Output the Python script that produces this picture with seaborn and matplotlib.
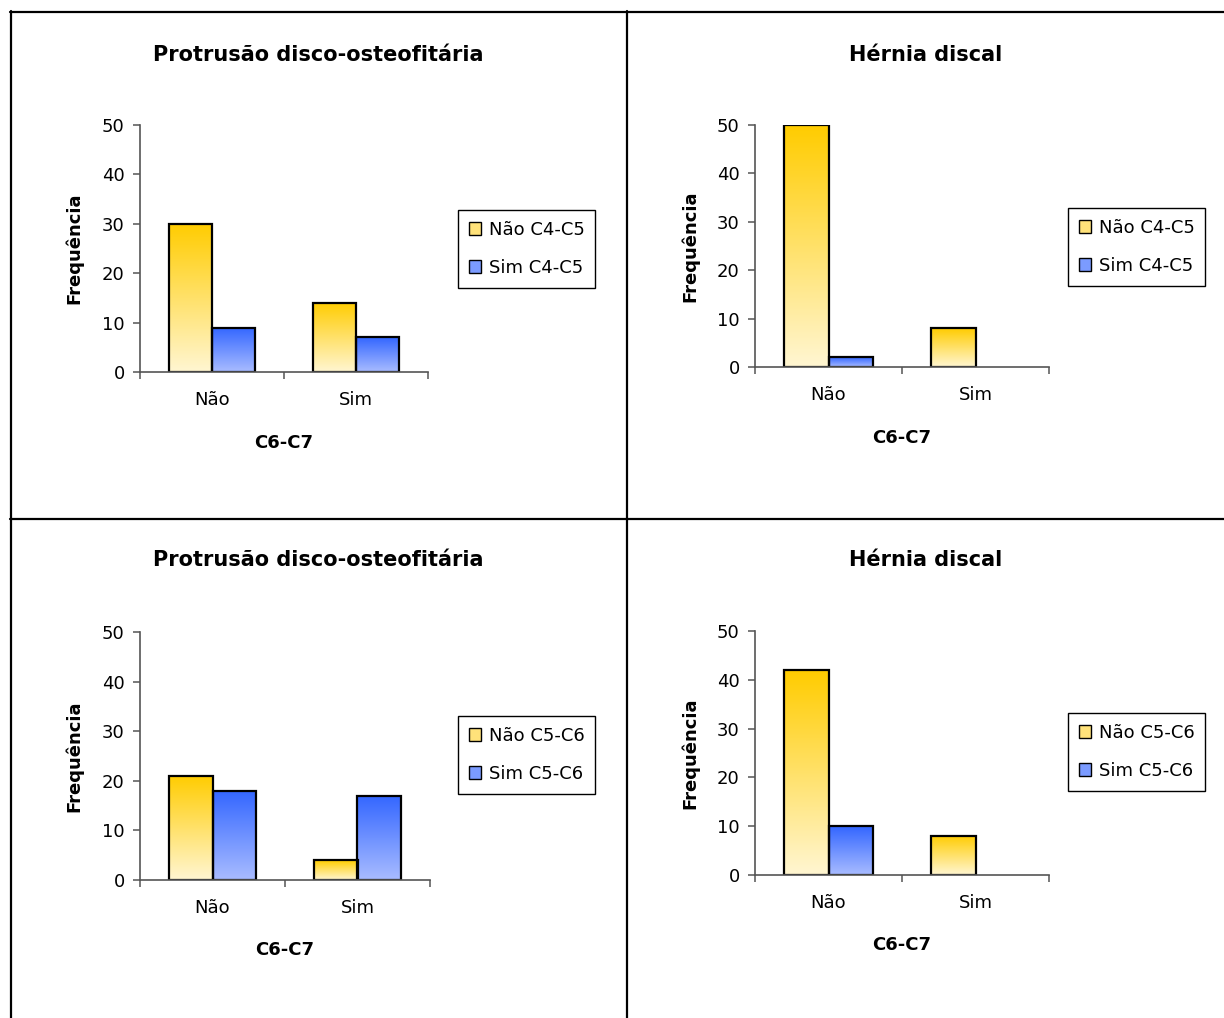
import numpy as np
import pandas as pd
import matplotlib
matplotlib.use("Agg")
import matplotlib.pyplot as plt
from matplotlib.patches import Patch
from matplotlib.lines import Line2D
from matplotlib.colors import LinearSegmentedColormap
import seaborn as sns

# ---- data ----
categories = ["Não", "Sim"]
panel_titles = ["Protrusão disco-osteofitária", "Hérnia discal",
                "Protrusão disco-osteofitária", "Hérnia discal"]
legend_c45 = ["Não C4-C5", "Sim C4-C5"]
legend_c56 = ["Não C5-C6", "Sim C5-C6"]

protrusao_c45_nao = [30, 14]
protrusao_c45_sim = [9, 7]
hernia_c45_nao = [50, 8]
hernia_c45_sim = [2, 0]
protrusao_c56_nao = [21, 4]
protrusao_c56_sim = [18, 17]
hernia_c56_nao = [42, 8]
hernia_c56_sim = [10, 0]

y_ticks = [0, 10, 20, 30, 40, 50]
x_title = "C6-C7"
y_title = "Frequência"

# ---- style ----
sns.set_style("ticks")
plt.rcParams["font.family"] = ["DejaVu Sans"]
plt.rcParams["text.color"] = "black"
plt.rcParams["axes.labelcolor"] = "black"
plt.rcParams["xtick.labelcolor"] = "black"
plt.rcParams["ytick.labelcolor"] = "black"

W, H = 1224, 1018
fig = plt.figure(figsize=(W / 100, H / 100), dpi=100)
fig.patch.set_facecolor("white")

YELLOW = ("#FFCC00", "#FFF6D2")   # top, bottom of the gradient
BLUE = ("#3366FF", "#A9BCFF")
LEG_COLORS = ["#FFE27A", "#7B9BFF"]


def fx(px):
    return px / W


def fy(py):
    return 1 - py / H


def gradient_bar(ax, rect, top, bottom):
    x, y = rect.get_x(), rect.get_y()
    w, h = rect.get_width(), rect.get_height()
    if h <= 0:
        rect.set_visible(False)
        return
    cmap = LinearSegmentedColormap.from_list("grad", [bottom, top])
    grad = np.linspace(0, 1, 256).reshape(-1, 1)
    im = ax.imshow(grad, extent=(x, x + w, y, y + h), origin="lower",
                   aspect="auto", cmap=cmap, zorder=0.9, interpolation="bilinear")
    im.set_clip_path(rect)
    rect.set_facecolor("none")
    rect.set_edgecolor("black")
    rect.set_linewidth(1.6)
    rect.set_zorder(1)


panels = [
    dict(nao=protrusao_c45_nao, sim=protrusao_c45_sim, labels=legend_c45,
         box=(140, 125, 428, 372), title_xy=(318, 55), ylab_x=74,
         xlab_y=443, leg=(458, 249)),
    dict(nao=hernia_c45_nao, sim=hernia_c45_sim, labels=legend_c45,
         box=(755, 125, 1049, 367), title_xy=(926, 55), ylab_x=690,
         xlab_y=438, leg=(1068, 247)),
    dict(nao=protrusao_c56_nao, sim=protrusao_c56_sim, labels=legend_c56,
         box=(140, 632, 430, 880), title_xy=(318, 560), ylab_x=74,
         xlab_y=950, leg=(458, 755)),
    dict(nao=hernia_c56_nao, sim=hernia_c56_sim, labels=legend_c56,
         box=(755, 631, 1049, 875), title_xy=(926, 560), ylab_x=690,
         xlab_y=945, leg=(1068, 752)),
]

for title, p in zip(panel_titles, panels):
    l, t, r, b = p["box"]
    ax = fig.add_axes([fx(l), fy(b), fx(r) - fx(l), (b - t) / H])
    ax.set_facecolor("white")

    df = pd.DataFrame({
        "c67": categories * 2,
        "grupo": [p["labels"][0]] * 2 + [p["labels"][1]] * 2,
        "freq": list(p["nao"]) + list(p["sim"]),
    })
    sns.barplot(data=df, x="c67", y="freq", hue="grupo", order=categories,
                hue_order=p["labels"], width=0.6, errorbar=None,
                palette=[YELLOW[0], BLUE[0]], legend=False, ax=ax)

    for cont, (top, bottom) in zip(ax.containers, [YELLOW, BLUE]):
        for rect in cont:
            gradient_bar(ax, rect, top, bottom)

    ax.set_xlim(-0.5, 1.5)
    ax.set_ylim(0, 50)
    ax.set_yticks(y_ticks)
    ax.set_yticklabels([str(v) for v in y_ticks], fontsize=13)
    ax.set_xticks([-0.5, 0.5, 1.5])
    ax.set_xticklabels(["", "", ""])
    ax.set_xticks([0, 1], minor=True)
    ax.set_xticklabels(categories, minor=True, fontsize=13)
    ax.tick_params(axis="x", which="major", length=5, width=1.1,
                   color="#555555", direction="out")
    ax.tick_params(axis="x", which="minor", length=0, pad=14,
                   labelcolor="black")
    ax.tick_params(axis="y", length=5, width=1.1, color="#555555",
                   direction="out", pad=6, labelcolor="black")

    for side in ("top", "right"):
        ax.spines[side].set_visible(False)
    for side in ("left", "bottom"):
        ax.spines[side].set_color("#555555")
        ax.spines[side].set_linewidth(1.2)

    ax.set_xlabel(x_title, fontsize=13, fontweight="bold", color="black")
    ax.xaxis.set_label_coords(fx((l + r) / 2), fy(p["xlab_y"]),
                              transform=fig.transFigure)
    ax.xaxis.label.set_va("center")

    ax.set_ylabel(y_title, fontsize=13, fontweight="bold", color="black")
    ax.yaxis.set_label_coords(fx(p["ylab_x"]), fy((t + b) / 2),
                              transform=fig.transFigure)
    ax.yaxis.label.set_va("center")
    ax.yaxis.label.set_ha("center")

    fig.text(fx(p["title_xy"][0]), fy(p["title_xy"][1]), title,
             fontsize=15, fontweight="bold", ha="center", va="center",
             color="black")

    handles = [Patch(facecolor=c, edgecolor="black", linewidth=1.0)
               for c in LEG_COLORS]
    leg = ax.legend(handles, p["labels"], loc="center left",
                    bbox_to_anchor=(fx(p["leg"][0]), fy(p["leg"][1])),
                    bbox_transform=fig.transFigure, fontsize=13,
                    frameon=True, fancybox=False, framealpha=1,
                    edgecolor="black", handlelength=0.7, handleheight=0.7,
                    handletextpad=0.4, labelspacing=1.1, borderpad=0.6,
                    borderaxespad=0)
    leg.get_frame().set_linewidth(1.0)
    for txt in leg.get_texts():
        txt.set_color("black")

# table-like frame around the four panels
frame_kw = dict(color="black", linewidth=1.6, transform=fig.transFigure)
fig.add_artist(Line2D([fx(10), 1], [fy(12), fy(12)], **frame_kw))
fig.add_artist(Line2D([fx(11), fx(11)], [fy(11), 0], **frame_kw))
fig.add_artist(Line2D([fx(627), fx(627)], [fy(11), 0], **frame_kw))
fig.add_artist(Line2D([fx(10), 1], [fy(519), fy(519)], **frame_kw))

fig.savefig("out.png", dpi=100, facecolor="white")
